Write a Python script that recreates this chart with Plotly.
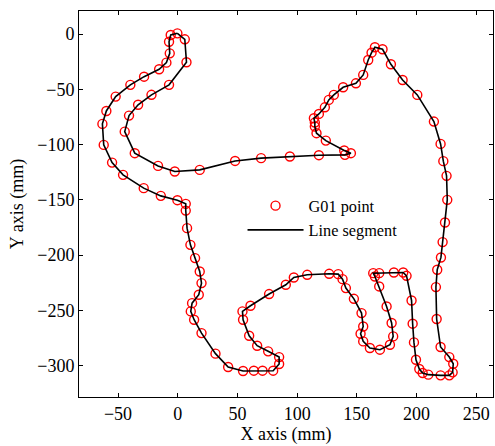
import plotly.graph_objects as go

# G01 points (mm), in path order (closed loop)
x_pts = [-0.3, -5.9, -7.3, -6.7, -9.5, -15.6, -28.2, -39.7, -52.0, -59.8,
         -63.1, -62.0, -55.0, -45.8, -28.5, -14.2, -0.3, 6.7, 6.7, 7.8,
         10.6, 14.5, 18.4, 19.9, 17.6, 12.0, 10.9, 13.7, 19.9, 31.6,
         42.2, 54.7, 63.7, 71.0, 79.9, 84.9, 84.9, 75.7, 66.5, 59.8,
         54.7, 54.2, 60.9, 76.5, 90.5, 97.2, 108.4, 126.8, 134.4, 138.0,
         140.8, 147.5, 153.9, 155.3, 153.1, 155.3, 160.9, 169.3, 177.7, 180.4,
         179.1, 174.9, 168.7, 165.1, 163.7, 168.7, 181.0, 188.8, 191.6, 195.8,
         196.7, 197.8, 199.5, 202.3, 205.1, 209.8, 220.1, 227.4, 230.2, 230.7,
         227.4, 220.1, 216.8, 216.2, 217.3, 220.4, 221.8, 223.8, 225.7, 225.1,
         222.4, 220.1, 214.5, 200.6, 188.3, 178.5, 171.5, 165.1, 162.3, 159.5,
         155.3, 149.2, 138.5, 130.7, 126.5, 123.2, 118.2, 114.0, 114.8, 114.8,
         116.2, 124.0, 139.4, 145.0, 140.0, 118.2, 93.9, 69.8, 48.0, 18.4,
         -2.5, -16.5, -36.0, -44.4, -40.8, -33.2, -22.0, -7.3, 7.3, 5.9]
y_pts = [0.6, -0.9, -7.0, -17.5, -25.9, -31.9, -38.6, -46.0, -56.6, -69.6,
         -81.3, -100.3, -116.3, -127.4, -139.4, -146.4, -150.3, -153.6, -159.7, -175.6,
         -190.7, -202.7, -214.8, -225.3, -235.8, -243.4, -250.9, -258.4, -270.5, -289.1,
         -301.2, -304.8, -304.5, -304.5, -304.5, -298.5, -292.2, -287.0, -281.9, -272.9,
         -258.4, -250.9, -245.8, -235.2, -226.8, -220.2, -217.8, -216.9, -217.2, -221.7,
         -229.8, -239.5, -252.4, -264.5, -271.1, -278.0, -284.0, -285.5, -281.0, -273.5,
         -261.4, -246.4, -228.3, -219.3, -216.3, -216.3, -215.7, -215.7, -218.7, -241.0,
         -262.0, -278.9, -294.6, -303.0, -306.6, -308.1, -308.7, -308.7, -306.0, -298.2,
         -292.2, -283.1, -257.8, -228.9, -213.2, -202.1, -188.2, -170.5, -150.0, -128.3,
         -115.0, -99.4, -79.2, -55.1, -41.6, -27.4, -13.8, -12.0, -16.9, -23.5,
         -37.0, -44.6, -48.2, -55.1, -59.6, -66.3, -72.3, -76.2, -80.1, -83.7,
         -89.7, -96.4, -105.4, -107.8, -109.3, -109.6, -110.8, -112.3, -114.8, -122.9,
         -124.4, -119.3, -107.8, -88.3, -73.8, -64.0, -55.0, -46.0, -25.6, -4.8]

x_ticks = [-50, 0, 50, 100, 150, 200, 250]
y_ticks = [0, -50, -100, -150, -200, -250, -300]

# closed line through the points
x_line = x_pts + [x_pts[0]]
y_line = y_pts + [y_pts[0]]

font_family = "Liberation Serif, Times New Roman, serif"

fig = go.Figure()
fig.add_trace(go.Scatter(
    x=x_pts, y=y_pts, mode="markers", name="G01 point",
    marker=dict(symbol="circle-open", size=9, color="#ff0000",
                line=dict(width=1.4, color="#ff0000")),
))
fig.add_trace(go.Scatter(
    x=x_line, y=y_line, mode="lines", name="Line segment",
    line=dict(color="black", width=1.6),
))

axis_common = dict(
    showline=True, linecolor="black", linewidth=1, mirror="ticks",
    ticks="inside", ticklen=4, tickcolor="black", tickwidth=1,
    showgrid=False, zeroline=False,
    tickfont=dict(family=font_family, size=18, color="black"),
)

fig.update_layout(
    width=495, height=446,
    margin=dict(l=79, r=2, t=11, b=49),
    paper_bgcolor="white", plot_bgcolor="white",
    font=dict(family=font_family, size=18, color="black"),
    showlegend=True,
    legend=dict(x=0.395, y=0.54, xanchor="left", yanchor="top",
                itemwidth=56,
                bgcolor="rgba(0,0,0,0)", borderwidth=0,
                font=dict(family=font_family, size=16.3, color="black")),
    xaxis=dict(range=[-82.7, 264.0], tickvals=x_ticks,
               title=dict(text="X axis (mm)", standoff=4,
                          font=dict(family=font_family, size=18)),
               **axis_common),
    yaxis=dict(range=[-328.3, 20.8], tickvals=y_ticks,
               title=dict(text="Y axis (mm)", standoff=8,
                          font=dict(family=font_family, size=18)),
               **axis_common),
)

fig.write_html("out.html")
